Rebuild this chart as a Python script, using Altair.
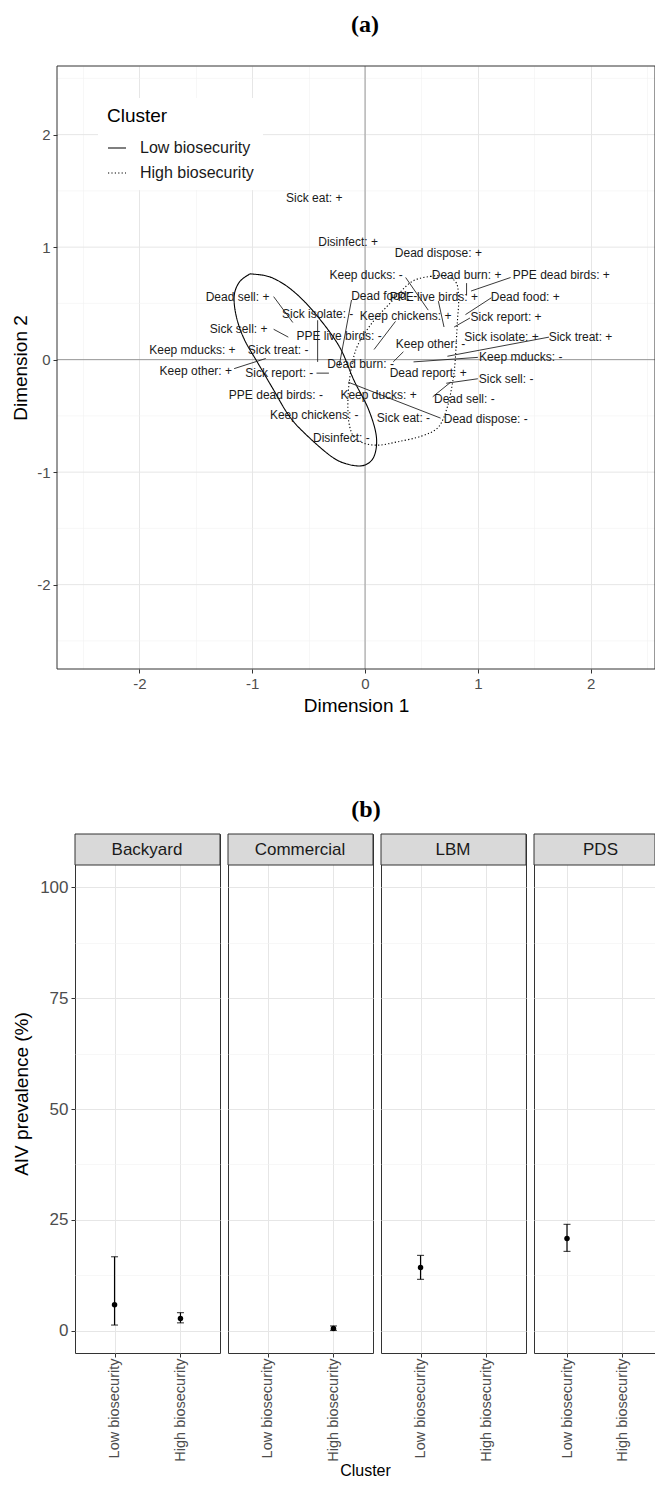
import altair as alt
import pandas as pd

FONT = "Liberation Sans"
SERIF = "Liberation Serif"

# ---------------- (a) MCA biplot data ----------------
labels = ["Sick eat: +", "Disinfect: +", "Dead dispose: +", "Keep ducks: -", "Dead burn: +",
          "PPE dead birds: +", "Dead food: -", "PPE live birds: +", "Dead food: +", "Dead sell: +",
          "Sick isolate: -", "Keep chickens: +", "Sick report: +", "Sick sell: +", "PPE live birds: -",
          "Sick isolate: +", "Sick treat: +", "Keep other: -", "Keep mducks: +", "Sick treat: -",
          "Keep mducks: -", "Dead burn: -", "Keep other: +", "Sick report: -", "Dead report: +",
          "Sick sell: -", "PPE dead birds: -", "Keep ducks: +", "Dead sell: -", "Keep chickens: -",
          "Sick eat: -", "Dead dispose: -", "Disinfect: -"]
lab_x = [-0.45, -0.15, 0.65, 0.01, 0.90, 1.74, 0.17, 0.61, 1.42, -1.13,
         -0.42, 0.36, 1.25, -1.12, -0.23, 1.21, 1.91, 0.58, -1.53, -0.77,
         1.38, -0.04, -1.50, -0.76, 0.56, 1.25, -0.79, 0.12, 0.88, -0.45,
         0.34, 1.07, -0.21]
lab_y = [1.44, 1.05, 0.95, 0.75, 0.75, 0.75, 0.57, 0.56, 0.56, 0.56,
         0.41, 0.39, 0.38, 0.27, 0.21, 0.20, 0.20, 0.14, 0.09, 0.09,
         0.02, -0.04, -0.10, -0.12, -0.12, -0.17, -0.31, -0.31, -0.35, -0.49,
         -0.52, -0.53, -0.70]

# leader segments (label side -> category point)
seg_x1 = [-0.81, -0.81, -1.16, -0.43, -0.42, -0.12, 0.27, 0.67, 1.00, 1.63,
          1.29, 0.90, 1.12, 0.93, 0.36, 0.65, 1.00, 0.60, 0.34]
seg_y1 = [0.56, 0.27, -0.08, -0.12, 0.35, 0.53, 0.34, -0.52, 0.02, 0.20,
          0.73, 0.68, 0.55, 0.37, 0.73, 0.52, -0.17, -0.33, 0.07]
seg_x2 = [-0.64, -0.68, -0.88, -0.32, -0.42, -0.23, 0.08, -0.15, 0.43, 0.73,
          0.94, 0.90, 0.89, 0.79, 0.56, 0.70, 0.72, 0.76, 0.25]
seg_y2 = [0.33, 0.20, 0.01, -0.12, -0.02, -0.06, 0.09, -0.20, -0.02, 0.03,
          0.61, 0.57, 0.40, 0.29, 0.44, 0.29, -0.21, -0.20, -0.02]

# cluster ellipses
cluster_order = ["Low biosecurity", "High biosecurity"]
low_x = [-0.99, -0.83, -0.65, -0.45, -0.23, -0.10, 0.03, 0.10, 0.08, -0.01,
         -0.15, -0.30, -0.54, -0.68, -0.81, -0.95, -1.07, -1.14, -1.16, -1.12, -1.04]
low_y = [0.76, 0.73, 0.62, 0.42, 0.12, -0.18, -0.44, -0.68, -0.86, -0.94,
         -0.93, -0.86, -0.65, -0.49, -0.27, -0.03, 0.18, 0.38, 0.56, 0.68, 0.75]
high_x = [0.41, 0.58, 0.72, 0.81, 0.83, 0.82, 0.81, 0.80, 0.78, 0.73, 0.65,
          0.50, 0.29, 0.12, -0.02, -0.11, -0.15, -0.14, -0.08, 0.05, 0.23]
high_y = [0.69, 0.74, 0.74, 0.68, 0.53, 0.36, 0.18, 0.00, -0.18, -0.42, -0.60,
          -0.68, -0.73, -0.76, -0.74, -0.67, -0.49, -0.20, 0.09, 0.31, 0.51]

# ---------------- (b) prevalence data ----------------
facilities = ["Backyard", "Commercial", "LBM", "PDS"]
est_fac = ["Backyard", "Backyard", "Commercial", "LBM", "PDS"]
est_cluster = ["Low biosecurity", "High biosecurity", "High biosecurity", "Low biosecurity", "Low biosecurity"]
est_prev = [5.9, 2.8, 0.5, 14.3, 20.8]
est_low = [1.3, 1.8, 0.1, 11.6, 17.9]
est_high = [16.7, 4.1, 1.1, 17.0, 24.0]

# ---------------- tables ----------------
lab_df = pd.DataFrame({"label": labels, "x": lab_x, "y": lab_y})
seg_df = pd.DataFrame({"x": seg_x1, "y": seg_y1, "x2": seg_x2, "y2": seg_y2})
ell_df = pd.DataFrame({
    "cluster": ["Low biosecurity"] * len(low_x) + ["High biosecurity"] * len(high_x),
    "x": low_x + high_x,
    "y": low_y + high_y,
    "order": list(range(len(low_x))) + list(range(len(high_x))),
})
zero_df = pd.DataFrame({"v": [0.0]})
est_df = pd.DataFrame({"facility": est_fac, "cluster": est_cluster, "prev": est_prev,
                       "lo": est_low, "hi": est_high})
strip_df = pd.DataFrame({"facility": facilities})

# ---------------- panel (a) ----------------
A_W, A_H, A_SHIFT = 580, 603, 18   # panel (a) frame starts A_SHIFT px left of the shared origin
maj1 = "datum.value % 1 == 0"
lab1 = "datum.value % 1 == 0 ? (datum.value < 0 ? '-' + abs(datum.value) : '' + datum.value) : ''"
half_vals = [-2.5, -2, -1.5, -1, -0.5, 0, 0.5, 1, 1.5, 2, 2.5]
grid_w1 = {"condition": {"test": maj1, "value": 1}, "value": 0.6}
grid_c1 = {"condition": {"test": maj1, "value": "#e6e6e6"}, "value": "#f1f1f1"}
tick_o1 = {"condition": {"test": maj1, "value": 1}, "value": 0}


def axis_a(title, pad, offset=0, grid=True):
    return alt.Axis(values=half_vals, labelExpr=lab1, tickOpacity=tick_o1, gridWidth=grid_w1,
                    gridColor=grid_c1, grid=grid, domain=False, tickSize=4, tickColor="#333333",
                    labelFontSize=15, labelColor="#4d4d4d", labelFont=FONT, labelPadding=3,
                    labelOverlap=False, title=title, titleFontSize=19, titleFontWeight="normal",
                    titleColor="black", titleFont=FONT, titlePadding=pad, offset=offset)


ax_x = axis_a("Dimension 1", 5)
ax_y = axis_a("Dimension 2", 6, A_SHIFT, grid=False)
sx = alt.Scale(domain=[-2.73, 2.57], nice=False, zero=False, range=[-A_SHIFT, A_W])
sy = alt.Scale(domain=[-2.75, 2.61], nice=False, zero=False)

# horizontal grid lines drawn across the full frame (axis ticks are offset)
hgrid_df = pd.DataFrame({"g": half_vals})
hgrid = alt.Chart(hgrid_df).mark_rule().encode(
    y=alt.Y("g:Q", scale=sy, axis=ax_y),
    x=alt.value(-A_SHIFT), x2=alt.value(A_W),
    color=alt.condition("datum.g % 1 == 0", alt.value("#e6e6e6"), alt.value("#f1f1f1")),
    strokeWidth=alt.condition("datum.g % 1 == 0", alt.value(1), alt.value(0.6)))

vline = alt.Chart(zero_df).mark_rule(color="#9a9a9a", strokeWidth=1).encode(
    x=alt.X("v:Q", scale=sx, axis=ax_x))
hline = alt.Chart(zero_df).mark_rule(color="#9a9a9a", strokeWidth=1).encode(
    y=alt.Y("v:Q", scale=sy, axis=ax_y),
    x=alt.value(-A_SHIFT), x2=alt.value(A_W))

ellipses = alt.Chart(ell_df).mark_line(color="black", strokeWidth=1.1,
                                       interpolate="cardinal-closed").encode(
    x=alt.X("x:Q", scale=sx, axis=ax_x),
    y=alt.Y("y:Q", scale=sy, axis=ax_y),
    strokeDash=alt.StrokeDash(
        "cluster:N",
        scale=alt.Scale(domain=cluster_order, range=[[1, 0], [1.2, 2.2]]),
        legend=alt.Legend(title="Cluster", orient="none", legendX=41 - A_SHIFT, legendY=32,
                          fillColor="white", padding=9, titleFontSize=19,
                          titleFontWeight="normal", titleColor="black", titleFont=FONT,
                          labelFontSize=16, labelFont=FONT, labelColor="#1a1a1a",
                          symbolType="stroke", symbolSize=324, symbolStrokeWidth=1.2,
                          symbolStrokeColor="black", rowPadding=7, titlePadding=12,
                          labelOffset=13)),
    order="order:Q",
)

segments = alt.Chart(seg_df).mark_rule(color="#222222", strokeWidth=0.9).encode(
    x=alt.X("x:Q", scale=sx, axis=ax_x),
    y=alt.Y("y:Q", scale=sy, axis=ax_y),
    x2="x2:Q", y2="y2:Q")

texts = alt.Chart(lab_df).mark_text(fontSize=12, font=FONT, color="#1a1a1a").encode(
    x=alt.X("x:Q", scale=sx, axis=ax_x),
    y=alt.Y("y:Q", scale=sy, axis=ax_y),
    text="label:N")

frame = alt.Chart(zero_df).mark_rect(fill="transparent", stroke="#333333", strokeWidth=1).encode(
    x=alt.value(-A_SHIFT), x2=alt.value(A_W), y=alt.value(0), y2=alt.value(A_H))

panel_a = alt.layer(hgrid, vline, hline, ellipses, segments, texts, frame).properties(
    width=A_W, height=A_H,
    view=alt.ViewBackground(stroke="transparent"),
    title=alt.TitleParams("(a)", font=SERIF, fontSize=24, fontWeight="bold", color="black",
                          anchor="middle", frame="group", offset=29))

# ---------------- panel (b) ----------------
maj25 = "datum.value % 25 == 0"
yvals = [0, 12.5, 25, 37.5, 50, 62.5, 75, 87.5, 100]
grid_w25 = {"condition": {"test": maj25, "value": 1}, "value": 0.6}
grid_c25 = {"condition": {"test": maj25, "value": "#e6e6e6"}, "value": "#f1f1f1"}
tick_o25 = {"condition": {"test": maj25, "value": 1}, "value": 0}
syb = alt.Scale(domain=[-5, 112], nice=False, zero=False)
widths = [145, 145, 145, 121]

panels = []
for i, fac in enumerate(facilities):
    w = widths[i]
    if i == 0:
        yax = alt.Axis(values=yvals, labelExpr="datum.value % 25 == 0 ? datum.label : ''",
                       tickOpacity=tick_o25, gridWidth=grid_w25, gridColor=grid_c25,
                       domain=False, tickSize=4, tickColor="#333333", labelFontSize=17,
                       labelColor="#4d4d4d", labelFont=FONT, labelPadding=3, labelOverlap=False,
                       title="AIV prevalence (%)", titleFontSize=19, titleFontWeight="normal",
                       titleColor="black", titleFont=FONT, titlePadding=8.6)
    else:
        yax = alt.Axis(values=yvals, labels=False, ticks=False, domain=False,
                       gridWidth=grid_w25, gridColor=grid_c25, title=None)
    xkw = dict(labelAngle=270, labelFontSize=14.5, labelColor="#4d4d4d", labelFont=FONT,
               labelPadding=1, labelOverlap=False, tickSize=4, tickColor="#333333",
               domain=False, grid=True, gridColor="#e6e6e6", gridWidth=1)
    if i == 1:
        xkw.update(title="Cluster", titleX=137, titleAlign="center", titleFontSize=16,
                   titleFontWeight="normal", titleColor="black", titleFont=FONT, titlePadding=1)
    else:
        xkw.update(title=None)
    xax = alt.Axis(**xkw)
    sxb = alt.Scale(type="point", domain=cluster_order, padding=0.6)
    X = alt.X("cluster:N", scale=sxb, axis=xax)

    base = alt.Chart(est_df).transform_filter(alt.datum.facility == fac)
    err = base.mark_rule(color="black", strokeWidth=1.2).encode(
        x=X, y=alt.Y("lo:Q", scale=syb, axis=yax), y2="hi:Q")
    cap_lo = base.mark_tick(color="black", size=7, thickness=1.2).encode(
        x=X, y=alt.Y("lo:Q", scale=syb, axis=yax))
    cap_hi = base.mark_tick(color="black", size=7, thickness=1.2).encode(
        x=X, y=alt.Y("hi:Q", scale=syb, axis=yax))
    pts = base.mark_circle(color="black", size=30, opacity=1).encode(
        x=X, y=alt.Y("prev:Q", scale=syb, axis=yax))

    sbase = alt.Chart(strip_df).transform_filter(alt.datum.facility == fac)
    strip = sbase.mark_rect(fill="#d9d9d9", stroke="#333333", strokeWidth=1).encode(
        x=alt.value(0), x2=alt.value(w), y=alt.value(0), y2=alt.value(31))
    slabel = sbase.mark_text(fontSize=17, font=FONT, color="#1a1a1a").encode(
        x=alt.value(min(72, w / 2 + 6)), y=alt.value(16), text="facility:N")
    layers = [err, cap_lo, cap_hi, pts, strip, slabel]
    if i == 1:
        # panel title "(b)", centred over the whole figure
        layers.append(sbase.mark_text(text="(b)", font=SERIF, fontSize=24, fontWeight="bold",
                                      color="black").encode(x=alt.value(138), y=alt.value(-24)))

    panels.append(alt.layer(*layers).properties(width=w, height=519))

panel_b = alt.hconcat(*panels, spacing=8, bounds="flush")

chart = alt.ConcatChart(concat=[panel_a, panel_b], columns=1, spacing=81,
                        padding={"left": 3, "top": 4, "right": -19, "bottom": 0}).configure(
    font=FONT).configure_view(stroke="#333333", strokeWidth=1, fill="white")

chart.save("out.html", embed_options={"renderer": "svg", "actions": False})
